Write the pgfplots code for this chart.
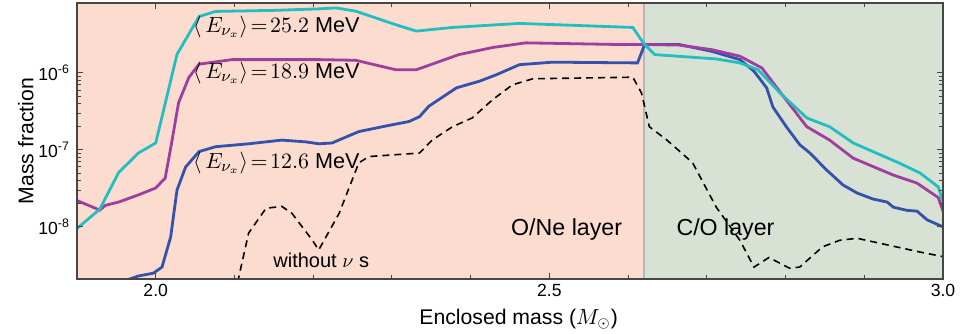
\documentclass[border=0pt]{standalone}
\usepackage[no-math]{fontspec}
\setmainfont{Liberation Sans}
\usepackage{pgfplots}
\pgfplotsset{compat=1.18}
\definecolor{bgpink}{RGB}{251,220,207}
\definecolor{bggreen}{RGB}{215,226,212}
\definecolor{ccyan}{RGB}{35,190,192}
\definecolor{cmag}{RGB}{160,62,160}
\definecolor{cblue}{RGB}{52,82,172}
\definecolor{frame}{RGB}{70,70,70}
\newcommand{\Ex}{\big\langle\, E_{\nu_x}\big\rangle}
\begin{document}
\begin{tikzpicture}
\path[use as bounding box] (-38.5pt,-27pt) rectangle (444pt,139.5pt);
\begin{axis}[
  scale only axis, width=433pt, height=138pt,
  xmin=1.9, xmax=3.0, ymode=log, ymin=2.1e-9, ymax=8.1e-6,
  axis line style={frame, line width=0.7pt},
  tick style={frame, line width=0.5pt},
  tick align=inside, major tick length=3pt, minor tick length=1.8pt,
  xtick={2.0,2.5,3.0}, xticklabels={2.0,2.5,3.0},
  minor xtick={2.1,2.2,2.3,2.4,2.6,2.7,2.8,2.9},
  ytick={1e-8,1e-7,1e-6},
  yticklabels={10\textsuperscript{-8},10\textsuperscript{-7},10\textsuperscript{-6}},
  ticklabel style={font=\fontsize{8.8}{10}\selectfont},
  xticklabel style={yshift=1pt},
  xlabel={Enclosed mass ($M_\odot$)},
  ylabel={Mass fraction},
  label style={font=\fontsize{10.6}{12}\selectfont},
  xlabel style={at={(axis description cs:0.51,-0.145)}, anchor=center},
  ylabel style={at={(axis description cs:-0.059,0.5)}, anchor=center},
  axis on top,
  clip=true,
]
\addplot[fill=bgpink, draw=none] coordinates {(1.9,1e-9) (2.62,1e-9) (2.62,1e-5) (1.9,1e-5)} -- cycle;
\addplot[fill=bggreen, draw=none] coordinates {(2.62,1e-9) (3.0,1e-9) (3.0,1e-5) (2.62,1e-5)} -- cycle;
\addplot[color={rgb,255:red,175;green,185;blue,185}, line width=1.2pt] coordinates {(2.62,1e-9) (2.62,1e-5)};
% without nu s
\addplot[black, line width=0.8pt, dash pattern=on 3.5pt off 2.5pt] coordinates {
(2.104,1.9e-9) (2.118,8.3e-9) (2.14,1.74e-8) (2.16,1.85e-8) (2.173,1.5e-8) (2.199,6.7e-9) (2.207,5.0e-9) (2.233,1.5e-8) (2.258,6.8e-8) (2.271,8.2e-8) (2.335,9.1e-8) (2.351,1.34e-7) (2.377,2.0e-7) (2.402,2.6e-7) (2.428,4.5e-7) (2.453,7.0e-7) (2.479,8.4e-7) (2.606,8.8e-7) (2.617,5.5e-7) (2.627,2.0e-7) (2.649,1.35e-7) (2.682,6.8e-8) (2.712,1.8e-8) (2.742,6.7e-9) (2.76,3.0e-9) (2.779,4.0e-9) (2.805,2.9e-9) (2.818,3.0e-9) (2.847,5.5e-9) (2.869,6.7e-9) (2.891,7.1e-9) (2.971,4.7e-9) (3.0,4.1e-9)};
% 12.6 MeV
\addplot[cblue, line width=1.4pt] coordinates {
(1.955,1.9e-9) (1.978,2.3e-9) (1.997,2.5e-9) (2.008,3.0e-9) (2.019,7.4e-9) (2.027,3.0e-8) (2.038,6.0e-8) (2.055,9.5e-8) (2.076,1.1e-7) (2.118,1.2e-7) (2.16,1.34e-7) (2.191,1.27e-7) (2.207,1.2e-7) (2.224,1.23e-7) (2.258,1.73e-7) (2.293,2.05e-7) (2.322,2.34e-7) (2.335,2.7e-7) (2.347,3.7e-7) (2.382,6.4e-7) (2.411,7.8e-7) (2.433,9.5e-7) (2.462,1.28e-6) (2.504,1.38e-6) (2.612,1.35e-6) (2.621,2.34e-6) (2.665,2.34e-6) (2.707,1.9e-6) (2.742,1.49e-6) (2.76,1.05e-6) (2.776,6.4e-7) (2.784,3.6e-7) (2.801,2.0e-7) (2.818,1.17e-7) (2.831,9.1e-8) (2.852,5.5e-8) (2.873,3.5e-8) (2.891,2.75e-8) (2.911,2.3e-8) (2.929,2.1e-8) (2.937,1.8e-8) (2.954,1.64e-8) (2.967,1.6e-8) (2.98,1.23e-8) (3.0,1.0e-8)};
% 18.9 MeV
\addplot[cmag, line width=1.4pt] coordinates {
(1.9,2.2e-8) (1.929,1.65e-8) (1.936,1.9e-8) (1.953,2.1e-8) (1.978,2.6e-8) (2.0,3.2e-8) (2.012,4.3e-8) (2.02,1.2e-7) (2.029,4.1e-7) (2.042,8.7e-7) (2.055,1.3e-6) (2.097,1.49e-6) (2.207,1.49e-6) (2.254,1.46e-6) (2.305,1.1e-6) (2.331,1.1e-6) (2.385,1.73e-6) (2.428,2.14e-6) (2.47,2.46e-6) (2.589,2.34e-6) (2.625,2.34e-6) (2.665,2.3e-6) (2.707,2.0e-6) (2.742,1.65e-6) (2.77,1.16e-6) (2.797,5.0e-7) (2.827,2.0e-7) (2.856,1.34e-7) (2.886,7.8e-8) (2.937,4.7e-8) (2.967,3.7e-8) (2.994,2.4e-8) (3.0,1.6e-8)};
% 25.2 MeV
\addplot[ccyan, line width=1.4pt] coordinates {
(1.9,9.5e-9) (1.929,1.7e-8) (1.953,5.1e-8) (1.978,9.1e-8) (2.0,1.23e-7) (2.027,1.74e-6) (2.055,5.4e-6) (2.076,6.3e-6) (2.15,6.5e-6) (2.207,6.8e-6) (2.229,7.0e-6) (2.254,6.35e-6) (2.309,4.1e-6) (2.331,3.5e-6) (2.377,3.9e-6) (2.462,4.4e-6) (2.606,3.9e-6) (2.62,2.4e-6) (2.634,1.73e-6) (2.712,1.52e-6) (2.742,1.35e-6) (2.765,1.1e-6) (2.793,5.5e-7) (2.827,2.6e-7) (2.856,2.0e-7) (2.886,1.23e-7) (2.945,6.7e-8) (2.971,5.0e-8) (2.994,3.3e-8) (3.0,2.1e-8)};
\node[anchor=west, inner sep=0pt, font=\fontsize{10.8}{12}\selectfont] at (axis cs:2.047,4.0e-6) {$\Ex\!=\!25.2$ MeV};
\node[anchor=west, inner sep=0pt, font=\fontsize{10.8}{12}\selectfont] at (axis cs:2.047,1.0e-6) {$\Ex\!=\!18.9$ MeV};
\node[anchor=west, inner sep=0pt, font=\fontsize{10.8}{12}\selectfont] at (axis cs:2.047,6.8e-8) {$\Ex\!=\!12.6$ MeV};
\node[anchor=base west, inner sep=0pt, font=\fontsize{10}{12}\selectfont] at (axis cs:2.149,3.0e-9) {without $\nu$ s};
\node[anchor=base west, inner sep=0pt, font=\fontsize{11.6}{13}\selectfont] at (axis cs:2.451,7.8e-9) {O/Ne layer};
\node[anchor=base west, inner sep=0pt, font=\fontsize{11.6}{13}\selectfont] at (axis cs:2.661,7.8e-9) {C/O layer};
\end{axis}
\end{tikzpicture}
\end{document}
